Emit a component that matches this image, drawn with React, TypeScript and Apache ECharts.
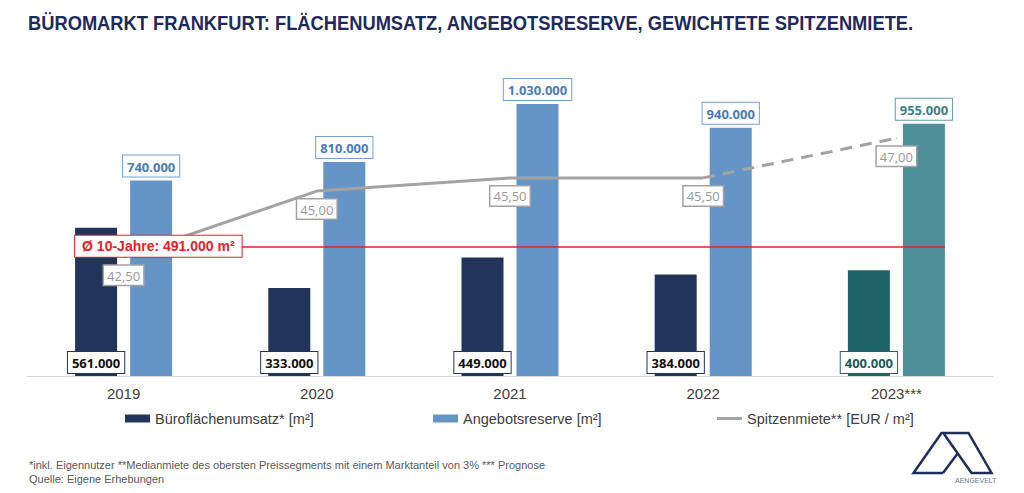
import React, { useEffect, useRef } from "react";
import * as echarts from "echarts";

const years = ["2019", "2020", "2021", "2022", "2023***"];
const umsatz = [561000, 333000, 449000, 384000, 400000];
const reserve = [740000, 810000, 1030000, 940000, 955000];
const miete = [42.5, 45.0, 45.5, 45.5, null];
const mieteForecast = [null, null, null, 45.5, 47.0];
const avg10 = 491000;

const NAVY = "#22345a";
const BLUE = "#6594c6";
const TEAL_D = "#1e6466";
const TEAL_L = "#4e8f98";
const GRAY = "#a3a3a3";
const RED = "#e4202a";

const fmtInt = (v: number) => String(v).replace(/\B(?=(\d{3})+(?!\d))/g, ".");
const fmtDec = (v: number) => v.toFixed(2).replace(".", ",");

const labelFont = "'Open Sans', 'Liberation Sans', sans-serif";
const arial = "'Liberation Sans', Arial, sans-serif";

// bar layout (in px) -> used to derive the extent of the average line in category units
const BAR_W = 42;
const BAR_GAP_RATIO = 0.31;

export default function App() {
  const ref = useRef<HTMLDivElement>(null);
  useEffect(() => {
    if (!ref.current) return;
    const chart = echarts.init(ref.current, undefined, { renderer: "svg" });

    const boxLabel = (color: string, border: string, pos: string, dist: number) => ({
      show: true,
      position: pos,
      distance: dist,
      formatter: (p: any) => fmtInt(p.value),
      color,
      fontFamily: labelFont,
      fontWeight: "bold",
      fontSize: 13,
      lineHeight: 16,
      backgroundColor: "#ffffff",
      borderColor: border,
      borderWidth: 1,
      padding: [3, 4, 2, 4],
    });

    const umsatzData = umsatz.map((v, i) =>
      i === 4
        ? { value: v, itemStyle: { color: TEAL_D }, label: boxLabel("#1b5b5c", TEAL_D, "insideBottom", 3) }
        : v
    );
    const reserveData = reserve.map((v, i) =>
      i === 4
        ? { value: v, itemStyle: { color: TEAL_L }, label: boxLabel("#3f8089", "#5f9ea6", "top", 4) }
        : v
    );

    const lineLabel = {
      show: true,
      position: "bottom",
      distance: 8,
      formatter: (p: any) => fmtDec(Number(p.value)),
      color: "#9a9a9a",
      fontFamily: labelFont,
      fontSize: 13,
      lineHeight: 16,
      backgroundColor: "#ffffff",
      borderColor: GRAY,
      borderWidth: 1.5,
      padding: [2, 3, 1, 3],
    };

    const forecastData = mieteForecast.map((v, i) =>
      v === null ? "-" : i === 3 ? { value: v, label: { show: false } } : v
    );

    const legendText = { color: "#404040", fontSize: 14.5, fontFamily: arial };

    // plot width and band width in px, to place the average line from the first bar's left edge
    const plotW = 1024 - 27 - 31;
    const band = plotW / years.length;
    const halfPair = (BAR_W * 2 + BAR_W * BAR_GAP_RATIO) / 2 / band;
    const lineStart = 0.5 - halfPair;
    const lineEnd = years.length - 0.5 + halfPair;

    chart.setOption({
      animation: false,
      grid: { left: 27, right: 31, top: 59, bottom: 117 },
      xAxis: [
        {
          type: "category",
          data: years,
          axisTick: { show: false },
          axisLine: { lineStyle: { color: "#d9d9d9", width: 1 } },
          axisLabel: { color: "#404040", fontSize: 15, fontFamily: arial, margin: 10 },
        },
        { type: "value", min: 0, max: years.length, show: false, splitLine: { show: false } },
      ],
      yAxis: [
        { type: "value", min: 0, max: 1200000, show: false, splitLine: { show: false } },
        { type: "value", min: 38, max: 50, show: false, splitLine: { show: false } },
      ],
      legend: [
        {
          data: ["Büroflächenumsatz* [m²]"],
          left: 120,
          top: 406,
          icon: "rect",
          itemWidth: 25,
          itemHeight: 8,
          textStyle: legendText,
          selectedMode: false,
        },
        {
          data: ["Angebotsreserve [m²]"],
          left: 428,
          top: 406,
          icon: "rect",
          itemWidth: 25,
          itemHeight: 8,
          textStyle: legendText,
          selectedMode: false,
        },
        {
          data: ["Spitzenmiete** [EUR / m²]"],
          left: 712,
          top: 406,
          icon: "rect",
          itemWidth: 25,
          itemHeight: 3,
          textStyle: legendText,
          selectedMode: false,
        },
      ],
      series: [
        {
          name: "Büroflächenumsatz* [m²]",
          type: "bar",
          data: umsatzData,
          barWidth: BAR_W,
          barGap: BAR_GAP_RATIO * 100 + "%",
          itemStyle: { color: NAVY },
          label: boxLabel("#111111", NAVY, "insideBottom", 3),
          z: 2,
        },
        {
          name: "Angebotsreserve [m²]",
          type: "bar",
          data: reserveData,
          barWidth: BAR_W,
          itemStyle: { color: BLUE },
          label: boxLabel("#4a7cb6", "#75a0cf", "top", 4),
          z: 2,
        },
        {
          name: "Spitzenmiete** [EUR / m²]",
          type: "line",
          yAxisIndex: 1,
          data: miete.map((v) => (v === null ? "-" : v)),
          symbol: "circle",
          symbolSize: 1,
          itemStyle: { color: GRAY },
          lineStyle: { color: GRAY, width: 3 },
          label: lineLabel,
          z: 3,
        },
        {
          name: "Spitzenmiete Prognose",
          type: "line",
          yAxisIndex: 1,
          data: forecastData,
          symbol: "circle",
          symbolSize: 1,
          itemStyle: { color: GRAY },
          lineStyle: { color: GRAY, width: 3, type: [12, 8] },
          label: lineLabel,
          z: 3,
        },
        {
          name: "Ø 10-Jahre",
          type: "line",
          xAxisIndex: 1,
          yAxisIndex: 0,
          data: [],
          symbol: "none",
          z: 6,
          markLine: {
            silent: true,
            z: 6,
            symbol: ["none", "none"],
            lineStyle: { color: RED, width: 1.5, type: "solid" },
            label: {
              show: true,
              position: "insideStartTop",
              distance: [0, 0],
              align: "left",
              verticalAlign: "middle",
              formatter: "Ø 10-Jahre: " + fmtInt(avg10) + " m²",
              color: RED,
              fontFamily: arial,
              fontWeight: "bold",
              fontSize: 14,
              backgroundColor: "#ffffff",
              borderColor: RED,
              borderWidth: 1,
              padding: [4, 7, 3, 7],
            },
            emphasis: { disabled: true },
            data: [[{ coord: [lineStart, avg10] }, { coord: [lineEnd, avg10] }]],
          },
        },
      ],
      graphic: [
        {
          type: "text",
          x: 28,
          y: 12,
          scaleX: 0.872,
          style: {
            text: "BÜROMARKT FRANKFURT: FLÄCHENUMSATZ, ANGEBOTSRESERVE, GEWICHTETE SPITZENMIETE.",
            fontFamily: arial,
            fontWeight: "bold",
            fontSize: 21,
            fill: "#1f2a5c",
          },
        },
        {
          type: "text",
          left: 29,
          top: 458,
          style: {
            text: "*inkl. Eigennutzer **Medianmiete des obersten Preissegments mit einem Marktanteil von 3% *** Prognose\nQuelle: Eigene Erhebungen",
            fontSize: 11,
            lineHeight: 14,
            fontFamily: arial,
            fill: "#595959",
          },
        },
        {
          type: "polyline",
          shape: {
            points: [
              [943, 473],
              [913.5, 473],
              [941.5, 433],
              [968.5, 433],
              [991.5, 473],
              [971.5, 473],
              [944, 434],
            ],
          },
          style: { stroke: "#1f2d5a", lineWidth: 2.5, fill: null, lineJoin: "miter" },
        },
        {
          type: "line",
          shape: { x1: 943, y1: 473, x2: 958, y2: 453 },
          style: { stroke: "#1f2d5a", lineWidth: 2.5 },
        },
        {
          type: "text",
          left: 955,
          top: 477,
          style: { text: "AENGEVELT", fontSize: 7, fontFamily: arial, fill: "#6b778c" },
        },
      ],
    });
    return () => chart.dispose();
  }, []);
  return (
    <div
      ref={ref}
      style={{ position: "fixed", left: 0, top: 0, width: 1024, height: 493, background: "#fff" }}
    />
  );
}
